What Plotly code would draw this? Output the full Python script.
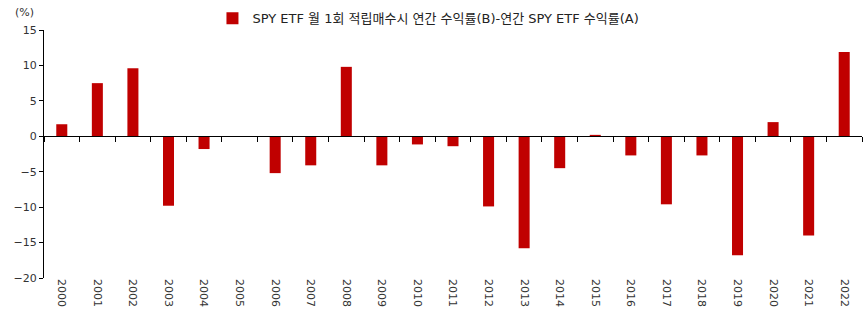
import plotly.graph_objects as go

years = [str(y) for y in range(2000, 2023)]
diff_return = [1.7, 7.5, 9.6, -9.8, -1.8, 0.0, -5.2, -4.1, 9.8, -4.1, -1.15, -1.4,
               -9.9, -15.8, -4.5, 0.2, -2.7, -9.6, -2.7, -16.8, 2.0, -14.0, 11.9]
series_name = "SPY ETF 월 1회 적립매수시 연간 수익률(B)-연간 SPY ETF 수익률(A)"

y_min, y_max = -20, 15
font_family = "DejaVu Sans, Noto Sans CJK KR, sans-serif"
positions = list(range(len(years)))

fig = go.Figure()
fig.add_trace(go.Bar(
    x=years, y=diff_return, name=series_name,
    marker=dict(color="#C00000", line=dict(width=0)),
    showlegend=True, hoverinfo="x+y",
))
# transparent copy on the baseline axis so that axis gets drawn
fig.add_trace(go.Bar(
    x=positions, y=diff_return, xaxis="x2", width=0.31,
    marker=dict(color="rgba(0,0,0,0)", line=dict(width=0)),
    showlegend=False, hoverinfo="skip",
))

# zero baseline with category-boundary ticks
zero_pos = (0 - y_min) / (y_max - y_min)

fig.update_layout(
    width=867, height=332,
    margin=dict(l=44, r=5, t=30, b=54, autoexpand=False),
    paper_bgcolor="white", plot_bgcolor="white",
    font=dict(family=font_family, size=11, color="#222"),
    bargap=0.69,
    showlegend=True,
    legend=dict(orientation="h", x=0.47, xanchor="center",
                yref="container", y=0.945, yanchor="middle",
                font=dict(size=13, color="#222"), itemwidth=30,
                bgcolor="rgba(0,0,0,0)"),
    xaxis=dict(type="category", range=[-0.5, len(years) - 0.5],
               showline=False, ticks="", tickangle=90, showgrid=False,
               zeroline=False, tickfont=dict(size=11, color="#333")),
    xaxis2=dict(overlaying="x", anchor="free", position=zero_pos,
                range=[-0.5, len(years) - 0.5], tick0=-0.5, dtick=1,
                showline=True, linecolor="black", linewidth=1,
                ticks="outside", ticklen=5, tickcolor="black",
                showticklabels=False, showgrid=False, zeroline=False),
    yaxis=dict(range=[y_min, y_max], dtick=5, showline=True, linecolor="black",
               linewidth=1, ticks="outside", ticklen=4, tickcolor="black",
               showgrid=False, zeroline=False, tickfont=dict(size=11, color="#333")),
    annotations=[dict(text="(%)", xref="paper", yref="paper", x=-0.024, y=1.069,
                      xanchor="center", yanchor="middle", showarrow=False,
                      font=dict(size=11, color="#333"))],
)

fig.write_html("out.html")
